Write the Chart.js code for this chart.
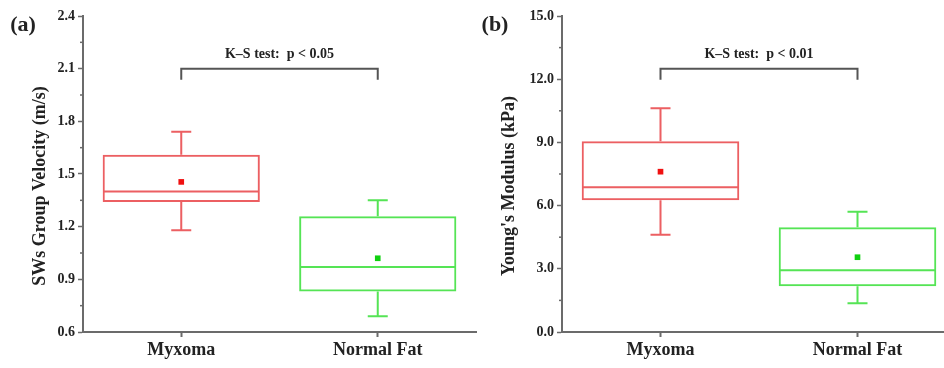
<!DOCTYPE html>
<html>
<head>
<meta charset="utf-8">
<script src="https://cdn.jsdelivr.net/npm/chart.js@4.4.1/dist/chart.umd.min.js"></script>
<style>
  html, body { margin: 0; padding: 0; background: #fff; }
  #wrap { position: relative; width: 944px; height: 368px; overflow: hidden; }
  #c1 { position: absolute; left: 0; top: 0; }
  #c2 { position: absolute; left: 472px; top: 0; }
</style>
</head>
<body>
<div id="wrap">
  <canvas id="c1" width="480" height="368"></canvas>
  <canvas id="c2" width="490" height="368"></canvas>
</div>
<script>
const groups = ["Myxoma", "Normal Fat"];

// (a) shear wave group velocity, m/s
const velMin = [1.18, 0.69];
const velQ1 = [1.34, 0.83];
const velMedian = [1.40, 0.97];
const velQ3 = [1.61, 1.26];
const velMax = [1.74, 1.35];
const velMean = [1.455, 1.02];
const velTicks = [0.6, 2.4, 0.3];

// (b) Young's modulus, kPa
const modMin = [4.62, 1.36];
const modQ1 = [6.25, 2.17];
const modMedian = [6.87, 2.93];
const modQ3 = [9.05, 4.97];
const modMax = [10.62, 5.71];
const modMean = [7.61, 3.55];
const modTicks = [0, 15, 3];

const boxColors = ["rgb(236,95,98)", "rgb(85,228,85)"];
const meanColors = ["#f01010", "#10d010"];
const axisColor = "#6b6b6b";
const textColor = "#222";
const serif = "'Liberation Serif', 'DejaVu Serif', serif";

const boxPlugin = {
  id: "boxExtras",
  afterDatasetsDraw(chart, args, opts) {
    const ctx = chart.ctx;
    const y = chart.scales.y;
    const meta = chart.getDatasetMeta(0);
    ctx.save();
    ctx.lineWidth = 2;
    meta.data.forEach((bar, i) => {
      const x = bar.x;
      const half = bar.width / 2;
      ctx.strokeStyle = boxColors[i];
      ctx.beginPath();
      // median
      ctx.moveTo(x - half + 1, y.getPixelForValue(opts.median[i]));
      ctx.lineTo(x + half - 1, y.getPixelForValue(opts.median[i]));
      // whiskers
      ctx.moveTo(x, y.getPixelForValue(opts.q3[i]));
      ctx.lineTo(x, y.getPixelForValue(opts.max[i]));
      ctx.moveTo(x, y.getPixelForValue(opts.q1[i]));
      ctx.lineTo(x, y.getPixelForValue(opts.min[i]));
      // caps
      ctx.moveTo(x - 10, y.getPixelForValue(opts.max[i]));
      ctx.lineTo(x + 10, y.getPixelForValue(opts.max[i]));
      ctx.moveTo(x - 10, y.getPixelForValue(opts.min[i]));
      ctx.lineTo(x + 10, y.getPixelForValue(opts.min[i]));
      ctx.stroke();
    });

    // significance bracket
    const x0 = meta.data[0].x;
    const x1 = meta.data[1].x;
    const by = y.getPixelForValue(opts.bracket);
    ctx.strokeStyle = "#555";
    ctx.beginPath();
    ctx.moveTo(x0, by + 11);
    ctx.lineTo(x0, by);
    ctx.lineTo(x1, by);
    ctx.lineTo(x1, by + 11);
    ctx.stroke();
    ctx.fillStyle = textColor;
    ctx.font = "bold 14px " + serif;
    ctx.textAlign = "center";
    ctx.textBaseline = "middle";
    ctx.fillText(opts.test, (x0 + x1) / 2, by - 14);

    // minor ticks
    ctx.strokeStyle = axisColor;
    ctx.lineWidth = 1.5;
    const left = chart.chartArea.left;
    y.ticks.forEach((t, i) => {
      if (i === 0) return;
      const mid = (t.value + y.ticks[i - 1].value) / 2;
      const py = y.getPixelForValue(mid);
      ctx.beginPath();
      ctx.moveTo(left - 3, py);
      ctx.lineTo(left, py);
      ctx.stroke();
    });

    // panel letter and y title
    ctx.font = "bold 22px " + serif;
    ctx.fillText(opts.letter, opts.letterX, 25);
    ctx.save();
    ctx.translate(opts.titleX, 186);
    ctx.rotate(-Math.PI / 2);
    ctx.font = "bold 18px " + serif;
    ctx.fillText(opts.yTitle, 0, 0);
    ctx.restore();
    ctx.restore();
  }
};

function makeChart(id, d) {
  return new Chart(document.getElementById(id), {
    type: "bar",
    data: {
      labels: groups,
      datasets: [
        {
          data: groups.map((g, i) => [d.q1[i], d.q3[i]]),
          backgroundColor: "rgba(0,0,0,0)",
          borderColor: boxColors,
          borderWidth: 2,
          borderSkipped: false,
          barPercentage: 1,
          categoryPercentage: 0.8
        },
        {
          type: "line",
          data: d.mean,
          showLine: false,
          pointStyle: "rect",
          pointRadius: 4,
          pointBorderWidth: 0,
          pointBackgroundColor: meanColors
        }
      ]
    },
    options: {
      responsive: false,
      animation: false,
      layout: { padding: { top: 16, left: 0, right: d.padRight, bottom: 0 } },
      plugins: {
        legend: { display: false },
        tooltip: { enabled: false },
        boxExtras: d
      },
      scales: {
        x: {
          offset: true,
          afterFit: (s) => { s.height = 36; },
          grid: { drawOnChartArea: false, offset: false, tickLength: 5, color: axisColor, tickWidth: 2 },
          border: { color: axisColor, width: 2 },
          ticks: { color: textColor, padding: 3, font: { family: serif, size: 18, weight: "bold" } }
        },
        y: {
          min: d.ticks[0],
          max: d.ticks[1],
          afterFit: (s) => { s.width = d.axisWidth; },
          grid: { drawOnChartArea: false, tickLength: 5, color: axisColor, tickWidth: 1.5 },
          border: { color: axisColor, width: 2 },
          ticks: {
            stepSize: d.ticks[2],
            color: textColor,
            padding: 3,
            font: { family: serif, size: 14, weight: "bold" },
            callback: (v) => Number(v).toFixed(1)
          }
        }
      }
    },
    plugins: [boxPlugin]
  });
}

makeChart("c1", {
  min: velMin, q1: velQ1, median: velMedian, q3: velQ3, max: velMax, mean: velMean,
  ticks: velTicks, bracket: 2.1, test: "K\u2013S test:  p < 0.05",
  letter: "(a)", letterX: 23, yTitle: "SWs Group Velocity (m/s)", titleX: 40,
  axisWidth: 83, padRight: 3
});

makeChart("c2", {
  min: modMin, q1: modQ1, median: modMedian, q3: modQ3, max: modMax, mean: modMean,
  ticks: modTicks, bracket: 12.5, test: "K\u2013S test:  p < 0.01",
  letter: "(b)", letterX: 23, yTitle: "Young's Modulus (kPa)", titleX: 37,
  axisWidth: 90, padRight: 6
});
</script>
</body>
</html>
